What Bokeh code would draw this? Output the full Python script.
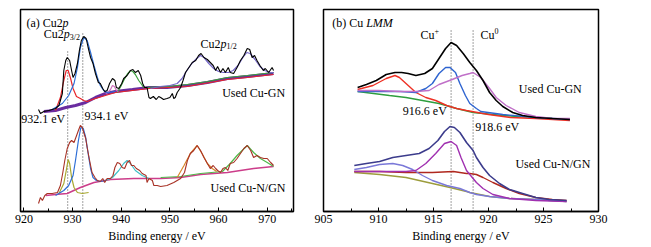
from bokeh.plotting import figure
from bokeh.layouts import row
from bokeh.models import Range1d, SingleIntervalTicker, Label
from bokeh.embed import file_html
from bokeh.resources import INLINE

FONT = "Liberation Serif"

# ---------------- Panel (a) Cu2p : binding energy (eV), intensity (a.u.) ----------------
# Used Cu-GN
a_gn_raw = [(923.0, 102), (923.4, 98), (924.1, 100), (925.1, 101), (926.5, 103), (927.2, 106),
            (927.9, 118), (928.2, 141), (928.6, 151), (928.9, 154), (929.4, 151), (929.8, 141),
            (930.1, 134), (930.5, 138), (931.0, 148), (931.4, 161), (931.8, 171), (932.3, 175),
            (932.8, 173), (933.2, 164), (933.7, 154), (934.2, 148), (934.7, 138), (935.3, 129),
            (935.7, 128), (936.2, 123), (936.6, 120), (937.1, 121), (937.6, 128), (938.2, 133),
            (938.7, 131), (939.0, 124), (939.5, 123), (940.1, 128), (940.5, 133), (941.2, 136),
            (941.9, 141), (942.4, 142), (942.9, 139), (943.5, 141), (944.0, 136), (944.4, 128),
            (944.8, 124), (945.3, 124), (945.7, 114), (946.0, 113), (946.6, 115), (947.2, 112),
            (947.7, 115), (948.1, 114), (948.7, 112), (949.4, 113), (950.0, 114), (950.5, 118),
            (950.8, 113), (951.1, 114), (951.5, 119), (952.2, 124), (952.7, 131), (953.2, 139),
            (953.9, 144), (954.6, 149), (955.3, 151), (955.9, 156), (956.4, 158), (957.0, 154),
            (957.7, 152), (958.3, 149), (958.9, 146), (959.4, 141), (959.8, 145), (960.4, 139),
            (960.9, 143), (961.4, 139), (962.0, 144), (962.4, 139), (963.1, 138), (963.8, 144),
            (964.5, 151), (965.2, 156), (965.9, 163), (966.4, 162), (966.9, 154), (967.4, 156),
            (967.9, 151), (968.5, 146), (969.2, 141), (969.6, 143), (970.3, 139), (971.0, 144),
            (971.3, 141)]
a_gn_bg = [(924.1, 100), (926.5, 101), (928.6, 104), (930.6, 106), (932.7, 109), (934.7, 114),
           (936.8, 118), (938.8, 120), (942.3, 122), (945.7, 124), (949.4, 124), (953.6, 126),
           (957.7, 129), (961.8, 133), (965.9, 135), (971.3, 138)]
a_gn_red = [(926.5, 101), (927.5, 114), (928.2, 131), (928.7, 141), (929.1, 141), (929.6, 133),
            (930.1, 123), (930.8, 115), (931.6, 113), (932.3, 111), (933.0, 110), (934.7, 113),
            (938.8, 119), (945.7, 123), (953.6, 125), (961.8, 132), (965.9, 134), (971.3, 137)]
a_gn_blue = [(925.8, 102), (927.9, 108), (929.2, 116), (930.3, 128), (931.0, 144), (931.6, 164),
             (932.3, 174), (933.0, 171), (933.7, 159), (934.4, 146), (935.1, 134), (935.7, 126),
             (936.4, 121), (937.1, 119), (938.8, 120)]
a_gn_pink = [(936.8, 118), (937.3, 119), (937.8, 122), (938.2, 126), (938.6, 125), (939.0, 121),
             (939.4, 120)]
a_gn_green = [(939.2, 119), (939.9, 125), (940.5, 131), (941.2, 137), (941.9, 141), (942.4, 140),
              (942.9, 137), (943.6, 131), (944.2, 127), (944.6, 124), (949.4, 125), (953.6, 127),
              (957.7, 130), (961.8, 134), (965.9, 136), (971.3, 139)]
a_gn_fit = [(946.0, 123), (948.0, 125), (950.0, 126), (951.5, 128), (952.5, 133), (953.5, 141),
            (954.5, 148), (955.5, 153), (956.3, 156), (957.0, 154), (958.0, 148), (959.0, 143),
            (960.0, 140), (961.0, 139), (962.0, 139), (963.0, 141), (964.0, 146), (965.0, 154),
            (965.8, 159), (966.5, 158), (967.5, 152), (968.5, 145), (969.5, 141), (970.5, 139),
            (971.3, 139)]

# Used Cu-N/GN
a_ngn_raw = [(923.0, 8), (923.4, 14), (923.8, 11), (924.3, 16), (924.8, 18), (925.8, 18),
             (926.9, 19), (927.5, 26), (928.0, 39), (928.4, 51), (928.9, 63), (929.4, 69),
             (929.8, 71), (930.3, 69), (930.6, 73), (931.2, 81), (931.6, 86), (932.0, 84),
             (932.3, 79), (932.7, 73), (933.0, 64), (933.5, 51), (934.0, 39), (934.6, 34),
             (935.1, 31), (935.7, 30), (936.2, 33), (936.6, 29), (937.1, 33), (937.8, 33),
             (938.3, 36), (938.7, 44), (939.2, 49), (939.7, 48), (940.2, 44), (940.7, 43),
             (941.2, 49), (941.7, 51), (942.1, 46), (942.6, 46), (943.1, 43), (943.8, 41),
             (944.3, 38), (945.1, 36), (945.3, 29), (945.7, 33), (946.4, 31), (946.7, 26),
             (947.4, 26), (948.1, 25), (949.4, 26), (950.8, 29), (952.2, 33), (953.0, 39),
             (953.6, 51), (954.2, 58), (954.9, 61), (955.6, 66), (956.3, 61), (957.0, 54),
             (957.7, 48), (958.3, 43), (958.9, 46), (959.4, 43), (959.8, 41), (960.4, 39),
             (960.9, 43), (961.4, 44), (961.9, 41), (962.4, 48), (963.1, 49), (963.8, 53),
             (964.5, 58), (965.2, 63), (965.9, 66), (966.6, 61), (967.2, 54), (967.9, 56),
             (968.6, 54), (969.3, 53), (970.0, 53), (970.7, 49), (971.3, 46)]
a_ngn_bg = [(924.5, 16), (926.5, 17), (928.9, 18), (931.6, 24), (934.4, 29), (937.8, 32),
            (942.6, 33), (948.1, 33), (952.2, 34), (956.3, 37), (961.8, 39), (967.2, 43),
            (971.3, 45)]
a_ngn_olive = [(927.2, 18), (928.2, 28), (928.7, 41), (929.1, 52), (929.4, 48), (929.8, 34),
               (930.3, 24), (931.0, 19), (932.0, 18), (933.3, 19)]
a_ngn_blue = [(926.5, 16), (928.2, 21), (929.2, 26), (930.1, 36), (930.6, 51), (931.2, 71),
              (931.7, 84), (932.2, 83), (932.7, 74), (933.2, 58), (933.7, 43), (934.2, 34),
              (934.9, 31), (935.7, 30), (936.8, 31)]
a_ngn_cyan = [(936.8, 31), (938.2, 34), (939.5, 41), (940.5, 48), (941.2, 51), (941.9, 48),
              (942.9, 41), (944.3, 36), (945.7, 33)]
a_ngn_orange = [(951.5, 34), (952.9, 46), (954.2, 58), (955.6, 66), (956.6, 58), (957.7, 48),
                (958.7, 43), (959.6, 40)]
a_ngn_green = [(948.1, 34), (952.2, 35), (956.3, 38), (960.8, 40), (962.4, 48), (963.8, 56),
               (965.9, 66), (967.2, 59), (968.6, 53), (970.0, 49), (971.3, 45)]

a_peak_lines = [929.0, 932.1]
a_peak_tops = [161, 178]

# ---------------- Panel (b) Cu LMM ----------------
b_gn_raw = [(908.1, 124), (908.9, 127), (909.8, 131), (910.7, 137), (911.5, 139), (912.1, 139),
            (912.7, 138), (913.4, 136), (914.2, 138), (914.9, 143), (915.5, 153), (916.1, 163),
            (916.6, 169), (917.1, 166), (917.7, 158), (918.3, 149), (918.9, 141), (919.5, 131),
            (920.1, 119), (920.7, 111), (921.3, 105), (922.2, 99), (923.1, 96), (924.3, 94),
            (925.8, 93), (927.4, 92)]
b_gn_red = [(908.1, 122), (909.5, 126), (910.7, 133), (911.5, 136), (911.9, 134), (912.5, 128),
            (913.4, 119), (914.3, 114), (915.2, 111), (916.2, 106), (917.1, 103), (918.0, 101),
            (920.0, 97), (922.0, 94), (924.3, 93), (927.4, 91)]
b_gn_bg = [(908.1, 120), (911.0, 116), (912.5, 114), (914.0, 111), (915.5, 108), (917.1, 103),
           (918.6, 99), (921.3, 96), (924.3, 94), (927.4, 92)]
b_gn_blue = [(908.1, 120), (910.0, 120), (912.0, 120), (913.4, 119), (914.3, 123), (914.9, 128),
             (915.5, 138), (916.1, 144), (916.5, 144), (917.0, 139), (917.4, 128), (917.9, 116),
             (918.3, 108), (918.9, 103), (919.3, 100), (921.3, 97), (924.3, 94), (927.4, 92)]
b_gn_pink = [(908.1, 121), (910.0, 121), (912.0, 120), (913.4, 120), (914.6, 121), (915.5, 127),
             (916.7, 132), (917.6, 136), (918.3, 138), (918.6, 139), (919.3, 134), (920.1, 123),
             (920.7, 114), (921.6, 106), (922.8, 99), (924.3, 95), (925.8, 93), (927.4, 93)]

b_ngn_raw = [(907.8, 46), (908.9, 48), (910.1, 50), (911.3, 54), (912.5, 56), (913.7, 58),
             (914.6, 63), (915.4, 71), (916.0, 80), (916.5, 85), (916.9, 84), (917.4, 79),
             (918.0, 69), (918.3, 65), (918.6, 61), (918.9, 54), (919.5, 44), (920.1, 36),
             (921.0, 28), (921.9, 22), (923.1, 18), (924.3, 14), (925.5, 12), (927.1, 11)]
b_ngn_magenta = [(907.8, 40), (910.1, 40), (912.5, 40), (913.4, 41), (914.3, 48), (915.2, 58),
                 (916.0, 68), (916.6, 70), (917.1, 66), (917.5, 54), (918.0, 41), (918.3, 37),
                 (918.9, 29), (919.5, 23), (920.4, 17), (921.9, 13), (924.3, 11), (927.1, 10)]
b_ngn_violet = [(907.8, 42), (908.9, 44), (910.1, 47), (911.3, 48), (912.2, 46), (913.1, 42),
                (914.0, 36), (914.9, 31), (916.2, 26), (917.4, 23), (918.3, 19), (918.9, 17),
                (920.1, 15), (921.9, 13), (924.3, 12), (927.1, 10)]
b_ngn_red = [(907.8, 40), (910.1, 40), (912.5, 39), (914.9, 39), (916.8, 40), (918.0, 38),
             (918.3, 38), (918.9, 37), (919.5, 34), (920.4, 29), (921.6, 23), (922.8, 18),
             (924.3, 14), (925.8, 12), (927.1, 11)]
b_ngn_bg = [(907.8, 39), (910.1, 37), (912.5, 34), (914.9, 28), (916.5, 24), (918.0, 20),
            (918.3, 19), (920.1, 15), (921.9, 13), (924.3, 12), (927.1, 10)]

b_peak_lines = [916.6, 918.6]
b_peak_tops = [183, 183]


def make_fig(width, xr, border_l, border_r, interval):
    p = figure(width=width, height=247, x_range=Range1d(*xr), y_range=Range1d(0, 202),
               output_backend="svg", toolbar_location=None,
               min_border_left=border_l, min_border_right=border_r,
               min_border_top=9, min_border_bottom=36)
    p.grid.visible = False
    p.yaxis.visible = False
    p.outline_line_color = "black"
    p.outline_line_width = 1.5
    p.outline_line_alpha = 1
    ax = p.xaxis[0]
    ax.ticker = SingleIntervalTicker(interval=interval, num_minor_ticks=2)
    ax.major_tick_in = 4
    ax.major_tick_out = 0
    ax.minor_tick_in = 3
    ax.minor_tick_out = 0
    ax.axis_line_width = 1.5
    ax.major_label_standoff = 3
    ax.major_label_text_font = FONT
    ax.major_label_text_font_size = "12px"
    ax.major_label_text_color = "black"
    ax.axis_label = "Binding energy / eV"
    ax.axis_label_text_font = FONT
    ax.axis_label_text_font_style = "normal"
    ax.axis_label_text_font_size = "12px"
    ax.axis_label_text_color = "black"
    ax.axis_label_standoff = 3
    p.background_fill_color = "white"
    p.border_fill_color = "white"
    return p


def curve(p, pts, color, w=1.2):
    xs, ys = zip(*pts)
    p.line(list(xs), list(ys), line_color=color, line_width=w)


def txt(p, x, y, s, size=12, style="normal", dx=0, dy=0, align="left"):
    p.add_layout(Label(x=x, y=y, text=s, x_offset=dx, y_offset=dy, text_font=FONT,
                       text_font_size=f"{size}px", text_font_style=style, text_align=align,
                       text_baseline="middle", text_color="black"))


# ---- panel a ----
pa = make_fig(308, (919.3, 975.4), 20, 15, 10)
pa.segment(x0=a_peak_lines, y0=[0, 0], x1=a_peak_lines, y1=a_peak_tops,
           line_color="#444444", line_width=1, line_dash="1 2")
curve(pa, a_gn_bg, "#6a2ca0", 3)
curve(pa, a_gn_red, "#e8262b")
curve(pa, a_gn_green, "#3aa03a")
curve(pa, a_gn_pink, "#d070c0")
curve(pa, a_gn_blue, "#2f6fd6")
curve(pa, a_gn_fit, "#7466c8")
curve(pa, a_gn_raw, "black", 1.1)

curve(pa, a_ngn_bg, "#cc3d8a", 1.6)
curve(pa, a_ngn_green, "#4fb84a")
curve(pa, a_ngn_olive, "#a8a830")
curve(pa, a_ngn_blue, "#2f6fd6")
curve(pa, a_ngn_cyan, "#40c0c8")
curve(pa, a_ngn_orange, "#d8862a")
curve(pa, a_ngn_raw, "#a83226", 1.1)

txt(pa, 920.53, 189, "(a) Cu2")
txt(pa, 920.53, 189, "p", style="italic", dx=36)
txt(pa, 924.09, 177.5, "Cu2")
txt(pa, 924.09, 177.5, "p", style="italic", dx=20)
txt(pa, 924.09, 177.5, "3/2", size=8, dx=26, dy=-3)
txt(pa, 956.29, 168, "Cu2")
txt(pa, 956.29, 168, "p", style="italic", dx=20)
txt(pa, 956.29, 168, "1/2", size=8, dx=26, dy=-3)
txt(pa, 919.44, 92.5, "932.1 eV")
txt(pa, 932.45, 96, "934.1 eV")
txt(pa, 960.75, 118.5, "Used Cu-GN")
txt(pa, 958.35, 24, "Used Cu-N/GN")

# ---- panel b ----
pb = make_fig(310, (905, 930), 15, 20, 5)
pb.segment(x0=b_peak_lines, y0=[0, 0], x1=b_peak_lines, y1=b_peak_tops,
           line_color="#444444", line_width=1, line_dash="1 2")
curve(pb, b_gn_bg, "#2e9e3e", 1.4)
curve(pb, b_gn_red, "#ee3024", 1.4)
curve(pb, b_gn_blue, "#2e64d0", 1.4)
curve(pb, b_gn_pink, "#c070c8", 1.4)
curve(pb, b_gn_raw, "black", 1.6)

curve(pb, b_ngn_bg, "#9c9c3c", 1.4)
curve(pb, b_ngn_red, "#b0281e", 1.4)
curve(pb, b_ngn_violet, "#7a78d8", 1.4)
curve(pb, b_ngn_magenta, "#a030b0", 1.4)
curve(pb, b_ngn_raw, "#3c3c8c", 1.6)

txt(pb, 905.79, 189, "(b) Cu ")
txt(pb, 905.79, 189, "LMM", style="italic", dx=34)
txt(pb, 913.82, 177, "Cu")
txt(pb, 913.82, 177, "+", size=8, dx=14, dy=4)
txt(pb, 919.27, 177, "Cu")
txt(pb, 919.27, 177, "0", size=8, dx=14, dy=4)
txt(pb, 912.21, 100.5, "916.6 eV")
txt(pb, 918.79, 84.3, "918.6 eV")
txt(pb, 922.75, 122.3, "Used Cu-GN")
txt(pb, 922.45, 47.2, "Used Cu-N/GN")

layout = row(pa, pb)
open("out.html", "w").write(file_html(layout, INLINE))
